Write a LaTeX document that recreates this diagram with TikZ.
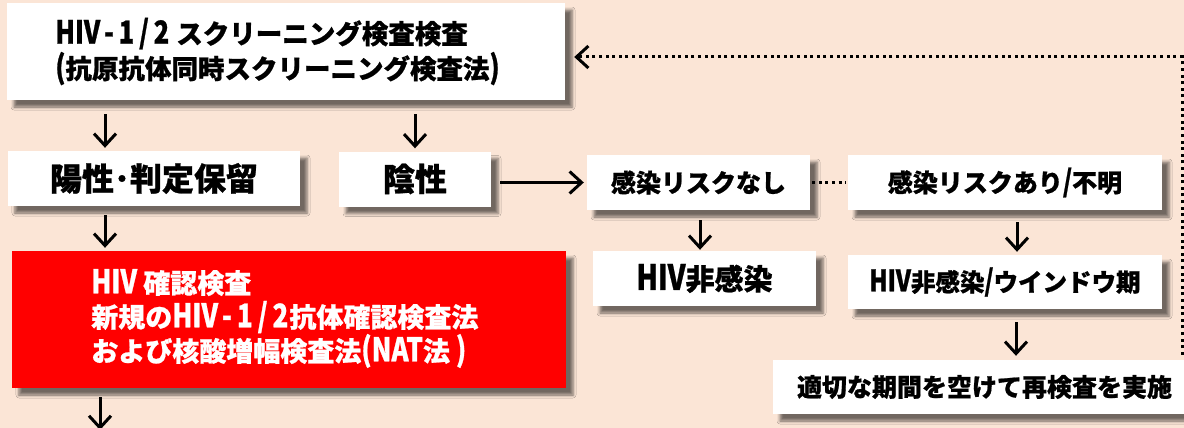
\documentclass[tikz,border=0pt]{standalone}
\usepackage{fontspec}
\setmainfont{Noto Sans CJK JP}[BoldFeatures={FakeBold=0.8}]
\newfontfamily\latf{Noto Sans CJK JP}[Scale=1.2, FakeStretch=0.8, BoldFeatures={FakeBold=0.8}]
\newcommand\hiv{{\latf HIV}}
\newcommand\cel[1]{\makebox[0.66em]{\latf #1}}
\newcommand\hivnum{{\latf HIV}\cel{-}\cel{1}\cel{/}\cel{2}}
\usetikzlibrary{arrows.meta,shadows.blur}
\definecolor{bgpeach}{HTML}{FBE5D6}
\definecolor{boxred}{HTML}{FF0000}
\tikzset{
  wbox/.style={fill=white, inner sep=0pt,
    blur shadow={shadow xshift=7pt, shadow yshift=-7pt, shadow blur radius=3pt, shadow opacity=55}},
  rbox/.style={fill=boxred, inner sep=0pt,
    blur shadow={shadow xshift=7pt, shadow yshift=-7pt, shadow blur radius=3pt, shadow opacity=55}},
  arr/.style={line width=3pt, -{Straight Barb[length=12pt,width=22pt]}},
  dotline/.style={line width=3pt, dash pattern=on 3pt off 3.6pt},
  fs/.style={font=\fontsize{#1}{#1}\selectfont\bfseries},
}
\begin{document}
\begin{tikzpicture}[x=1pt,y=-1pt]
\fill[bgpeach] (0,0) rectangle (1184,428);
\useasboundingbox (0,0) rectangle (1184,428);

% boxes
\node[wbox, minimum width=558pt, minimum height=97pt] (top) at (286,51.5) {};
\node[anchor=west, align=left, font=\fontsize{26.5}{35}\selectfont\bfseries] (toptext)
  at ([xshift=45pt]top.west) {\hivnum\ スクリーニング検査検査\\{\latf(}抗原抗体同時スクリーニング検査法{\latf)}};

\node[wbox, fs=32, minimum width=292pt, minimum height=55pt] (pos) at (154,178.5) {陽性･判定保留};
\node[wbox, fs=32, minimum width=152pt, minimum height=55pt] (neg) at (415,179) {陰性};
\node[wbox, fs=25, minimum width=223pt, minimum height=55pt] (nr) at (698.5,182.5) {感染リスクなし};
\node[wbox, fs=25, minimum width=314pt, minimum height=55pt] (risk) at (1005,182.5) {感染リスクあり{\latf/}不明};
\node[wbox, fs=29, minimum width=223pt, minimum height=55pt] (hneg) at (704.5,278.5) {\hiv 非感染};
\node[wbox, fs=24.5, minimum width=314pt, minimum height=54pt] (win) at (1005,282) {\hiv 非感染{\latf/}ウインドウ期};
\node[wbox, fs=25, minimum width=423pt, minimum height=54pt] (re) at (984.5,387) {適切な期間を空けて再検査を実施};

\node[rbox, minimum width=554pt, minimum height=137pt] (conf) at (289,319.5) {};
\node[anchor=west, align=left, text=white, font=\fontsize{27}{34}\selectfont\bfseries] (conftext)
  at ([xshift=76pt,yshift=1pt]conf.west) {\hiv\ 確認検査\\新規の\hivnum 抗体確認検査法\\および核酸増幅検査法{\latf(NAT}法{\latf\ )}};

\coordinate (out) at (100,430);

% connectors
\draw[arr, shorten <=14pt, shorten >=3pt] ([xshift=-181pt]top.south) -- ([xshift=-49pt]pos.north);
\draw[arr, shorten <=14pt, shorten >=3pt] ([xshift=129pt]top.south) -- (neg.north);
\draw[arr, shorten <=9pt, shorten >=3pt] ([xshift=-49pt]pos.south) -- ([xshift=-184pt]conf.north);
\draw[arr, shorten <=9pt] ([xshift=-189pt]conf.south) -- (out);
\draw[arr, shorten <=9pt, shorten >=3pt] (neg.east |- nr.west) -- (nr.west);
\draw[dotline, shorten <=2pt, shorten >=2pt] (nr.east) -- (risk.west);
\draw[arr, shorten <=10pt, shorten >=1pt] ([xshift=1.5pt]nr.south) -- ([xshift=-4.5pt]hneg.north);
\draw[arr, shorten <=12pt, shorten >=3pt] ([xshift=12pt]risk.south) -- ([xshift=12pt]win.north);
\draw[arr, shorten <=13pt, shorten >=4pt] ([xshift=11pt]win.south) -- ([xshift=31.5pt]re.north);
\draw[dotline, -{Straight Barb[length=12pt,width=22pt,line width=3pt]}, shorten >=9pt]
  ([xshift=197.5pt,yshift=5pt]re.north) |- ([yshift=-5.5pt]top.east);
\end{tikzpicture}
\end{document}
